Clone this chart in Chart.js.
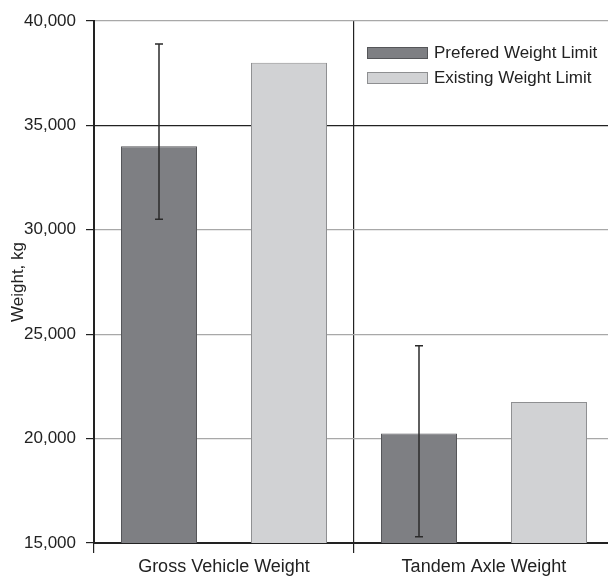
<!DOCTYPE html>
<html>
<head>
<meta charset="utf-8">
<script src="https://cdn.jsdelivr.net/npm/chart.js@4.4.0/dist/chart.umd.min.js"></script>
<style>
  html, body { margin: 0; padding: 0; overflow: hidden; background: #fff; }
  #wrap { width: 620px; height: 579px; }
</style>
</head>
<body>
<div id="wrap"><canvas id="barChart" width="620" height="579"></canvas></div>
<script>
var ctx = document.getElementById('barChart').getContext('2d');

// data
const categories = ['Gross Vehicle Weight', 'Tandem Axle Weight'];
const preferred = [34000, 20250];
const existing = [38000, 21750];
const preferredLow = [30500, 15300];
const preferredHigh = [38900, 24450];
const yTicks = [15000, 20000, 25000, 30000, 35000, 40000];

const FONT = "'Liberation Sans Narrow', 'Arial Narrow', 'Liberation Sans', Arial, sans-serif";

// error bars on the preferred series
const errorBars = {
  id: 'errorBars',
  afterDatasetsDraw(chart) {
    const c = chart.ctx;
    const meta = chart.getDatasetMeta(0);
    const y = chart.scales.y;
    c.save();
    c.strokeStyle = '#2b2b2b';
    c.lineWidth = 1.5;
    meta.data.forEach(function (bar, i) {
      const x = bar.x;
      const top = y.getPixelForValue(preferredHigh[i]);
      const bot = y.getPixelForValue(preferredLow[i]);
      c.beginPath();
      c.moveTo(x, top); c.lineTo(x, bot);
      c.moveTo(x - 4, top); c.lineTo(x + 4, top);
      c.moveTo(x - 4, bot); c.lineTo(x + 4, bot);
      c.stroke();
    });
    c.restore();
  }
};

// legend drawn inside the plot, top right
const innerLegend = {
  id: 'innerLegend',
  afterDraw(chart) {
    const c = chart.ctx;
    const area = chart.chartArea;
    let x0 = area.left + 273, y0 = area.top + 32;
    c.save();
    c.font = '17px ' + FONT;
    c.textBaseline = 'middle';
    chart.data.datasets.forEach(function (ds, i) {
      const yy = y0 + i * 25;
      c.fillStyle = ds.backgroundColor;
      c.strokeStyle = ds.borderColor;
      c.lineWidth = 1;
      c.fillRect(x0, yy - 6, 61, 11);
      c.strokeRect(x0 + 0.5, yy - 5.5, 60, 11);
      c.fillStyle = '#222';
      c.fillText(ds.label, x0 + 67, yy);
    });
    c.restore();
  }
};

const chart = new Chart(ctx, {
  type: 'bar',
  data: {
    labels: categories,
    datasets: [
      {
        label: 'Prefered Weight Limit',
        data: preferred,
        backgroundColor: '#7e7f83',
        borderColor: '#555659',
        borderWidth: 1,
        barPercentage: 0.585,
        categoryPercentage: 1.0
      },
      {
        label: 'Existing Weight Limit',
        data: existing,
        backgroundColor: '#d1d2d4',
        borderColor: '#8e8f91',
        borderWidth: 1,
        barPercentage: 0.585,
        categoryPercentage: 1.0
      }
    ]
  },
  options: {
    responsive: false,
    animation: false,
    layout: { padding: { left: 0, top: 21, right: 6, bottom: 0 } },
    plugins: {
      legend: { display: false },
      tooltip: { enabled: false }
    },
    scales: {
      x: {
        grid: {
          offset: true,
          color: '#222',
          lineWidth: 1.2,
          drawTicks: true,
          tickLength: 10
        },
        border: { display: true, color: '#222', width: 2 },
        ticks: {
          color: '#222',
          padding: 3,
          font: { family: FONT, size: 18 }
        },
        afterFit(scale) { scale.height = 36; }
      },
      y: {
        min: 15000,
        max: 40000,
        afterBuildTicks(scale) {
          scale.ticks = yTicks.map(function (v) { return { value: v }; });
        },
        grid: {
          color(c) { return c.tick && c.tick.value === 35000 ? '#222' : '#a8a8a8'; },
          lineWidth: 1.2,
          tickLength: 8,
          tickColor: '#222'
        },
        border: { display: true, color: '#222', width: 2 },
        ticks: {
          color: '#222',
          padding: 10,
          font: { family: FONT, size: 17 }
        },
        title: {
          display: true,
          text: 'Weight, kg',
          color: '#222',
          padding: { top: 8, bottom: 0 },
          font: { family: FONT, size: 17 }
        },
        afterFit(scale) { scale.width = 94; }
      }
    }
  },
  plugins: [errorBars, innerLegend]
});
</script>
</body>
</html>
